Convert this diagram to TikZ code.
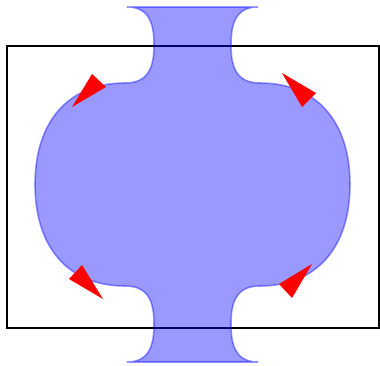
\documentclass[tikz,border=0pt]{standalone}
\begin{document}
\begin{tikzpicture}[x=0.02cm,y=-0.02cm]
\useasboundingbox (0,0) rectangle (380,366);
\tikzset{
  frame/.style={draw=black,line width=1.6},
  body/.style={draw=blue,fill=blue,opacity=0.4,line width=0.9},
  tip/.style={fill=red}
}
% frame
\draw[frame] (7,46) rectangle (379,328);
% vase-like body
\draw[body]
  (127,7) -- (258,7)
  .. controls (235,7) and (231,25) .. (231,45)
  .. controls (231,68) and (237,83) .. (260,83)
  .. controls (317,83) and (350,122) .. (350,184.5)
  .. controls (350,247) and (317,286) .. (260,286)
  .. controls (237,286) and (231,301) .. (231,324)
  .. controls (231,344) and (235,362) .. (258,362)
  -- (127,362)
  .. controls (150,362) and (154,344) .. (154,324)
  .. controls (154,301) and (148,286) .. (125,286)
  .. controls (68,286) and (35,247) .. (35,184.5)
  .. controls (35,122) and (68,83) .. (125,83)
  .. controls (148,83) and (154,68) .. (154,45)
  .. controls (154,25) and (150,7) .. (127,7) -- cycle;
% red arrow tips
\fill[tip] (92,74) -- (106,87) -- (72,107) -- cycle;
\fill[tip] (282,73) -- (316,93) -- (302,107) -- cycle;
\fill[tip] (82,265) -- (69,279) -- (103,299) -- cycle;
\fill[tip] (312,264) -- (279,284) -- (292,298) -- cycle;
\end{tikzpicture}
\end{document}
